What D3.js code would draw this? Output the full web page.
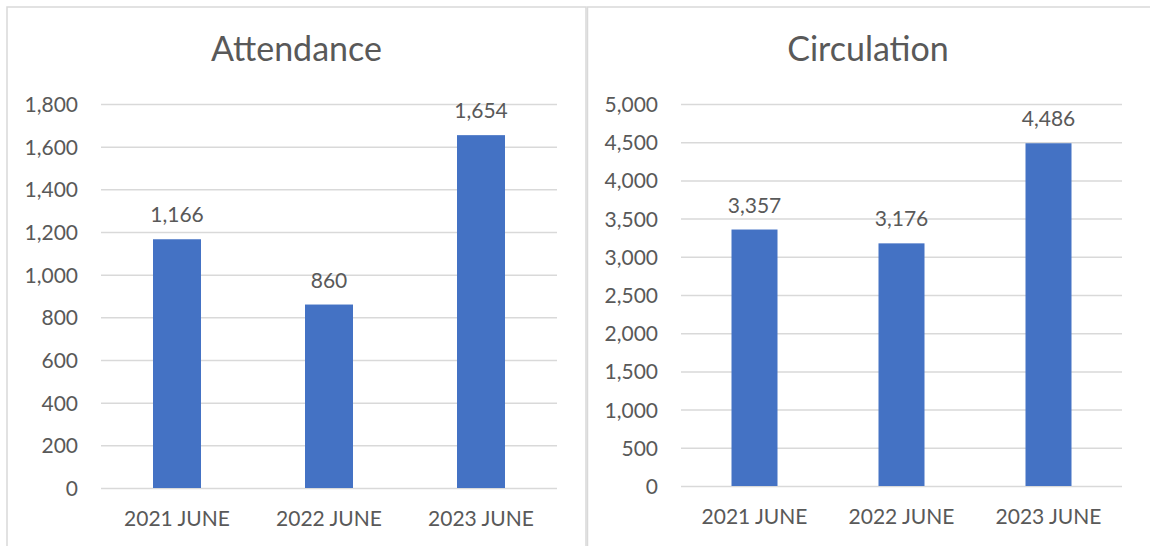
<!DOCTYPE html>
<html>
<head>
<meta charset="utf-8">
<script src="https://cdn.jsdelivr.net/npm/d3@7"></script>
<style>
  html, body { margin: 0; padding: 0; background: #ffffff; }
  svg { display: block; font-family: Lato, "Open Sans", sans-serif; }
</style>
</head>
<body>
<svg id="chart" width="1150" height="546"></svg>
<script>
// Monthly figures for June of each year
const categories = ["2021 JUNE", "2022 JUNE", "2023 JUNE"];
const attendance = [1166, 860, 1654];
const circulation = [3357, 3176, 4486];
const attendanceTicks = [0, 200, 400, 600, 800, 1000, 1200, 1400, 1600, 1800];
const circulationTicks = [0, 500, 1000, 1500, 2000, 2500, 3000, 3500, 4000, 4500, 5000];

const BAR = "#4472c4";
const TEXT = "#595959";
const GRID = "#d9d9d9";
const fmt = d3.format(",");

const svg = d3.select("#chart");

// panel frames
svg.append("rect")
  .attr("x", 7).attr("y", 7).attr("width", 579).attr("height", 560)
  .attr("fill", "none").attr("stroke", GRID).attr("stroke-width", 1.5);
svg.append("rect")
  .attr("x", 587.5).attr("y", 7).attr("width", 580).attr("height", 560)
  .attr("fill", "none").attr("stroke", GRID).attr("stroke-width", 1.5);

function panel(cfg) {
  const g = svg.append("g");
  const x = d3.scaleBand()
    .domain(categories)
    .range([cfg.left, cfg.right])
    .paddingInner(cfg.pad)
    .paddingOuter(cfg.pad / 2);
  const y = d3.scaleLinear()
    .domain([0, d3.max(cfg.ticks)])
    .range([cfg.bottom, cfg.top]);

  // title
  g.append("text")
    .attr("x", cfg.titleX).attr("y", 61)
    .attr("text-anchor", "middle")
    .attr("fill", TEXT)
    .style("font-size", "34px")
    .text(cfg.title);

  // horizontal gridlines via the axis generator
  const yAxis = d3.axisLeft(y)
    .tickValues(cfg.ticks)
    .tickSize(-(cfg.right - cfg.left))
    .tickPadding(23)
    .tickFormat(fmt);
  const ax = g.append("g")
    .attr("transform", `translate(${cfg.left},0)`)
    .call(yAxis);
  ax.select(".domain").remove();
  ax.selectAll(".tick line").attr("stroke", GRID).attr("stroke-width", 1.5);
  ax.selectAll(".tick text")
    .attr("fill", TEXT)
    .style("font-size", "21px")
    .style("font-family", "Lato, sans-serif")
    .attr("dy", "0.36em");

  // bars
  const data = categories.map((c, i) => ({ c, v: cfg.values[i] }));
  g.selectAll("rect.bar").data(data).enter().append("rect")
    .attr("class", "bar")
    .attr("x", d => x(d.c))
    .attr("width", x.bandwidth())
    .attr("y", d => y(d.v))
    .attr("height", d => y(0) - y(d.v))
    .attr("fill", BAR);

  // value labels
  g.selectAll("text.val").data(data).enter().append("text")
    .attr("class", "val")
    .attr("x", d => x(d.c) + x.bandwidth() / 2)
    .attr("y", d => y(d.v) - 17)
    .attr("text-anchor", "middle")
    .attr("fill", TEXT)
    .style("font-size", "21px")
    .text(d => fmt(d.v));

  // category axis
  const xAxis = d3.axisBottom(x).tickSize(0).tickPadding(23);
  const bx = g.append("g")
    .attr("transform", `translate(0,${cfg.bottom})`)
    .call(xAxis);
  bx.select(".domain").remove();
  bx.selectAll(".tick text")
    .attr("fill", TEXT)
    .style("font-size", "21px")
    .style("font-family", "Lato, sans-serif");
}

panel({
  title: "Attendance", titleX: 296.5,
  values: attendance, ticks: attendanceTicks,
  left: 101, right: 557, top: 104, bottom: 488, pad: 1 - 48 / 152
});
panel({
  title: "Circulation", titleX: 868,
  values: circulation, ticks: circulationTicks,
  left: 681, right: 1122, top: 104, bottom: 486, pad: 1 - 46 / 147
});
</script>
</body>
</html>
